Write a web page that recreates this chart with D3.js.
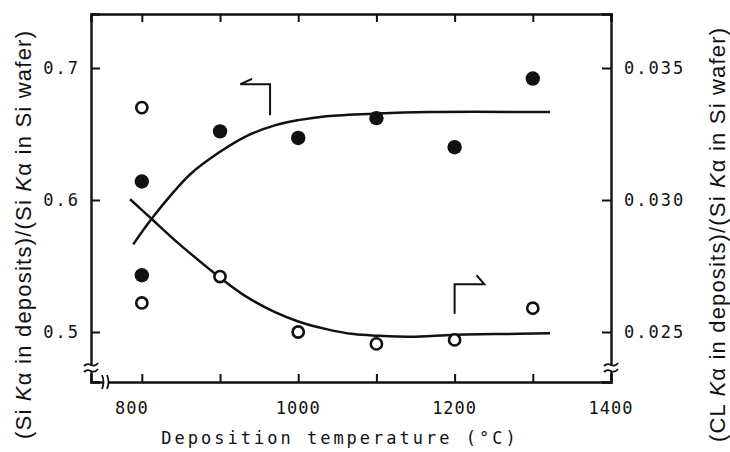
<!DOCTYPE html>
<html><head><meta charset="utf-8">
<script src="https://cdn.jsdelivr.net/npm/d3@7"></script>
<style>
html,body{margin:0;padding:0;background:#fff;}
svg{display:block;}
</style></head>
<body><svg id="chart" width="730" height="452"></svg>
<script>
// ---- data ----
const siTemps = [800, 800, 900, 1000, 1100, 1200, 1300];
const siRatio = [0.614, 0.543, 0.652, 0.647, 0.662, 0.640, 0.692];
const clTemps = [800, 800, 900, 1000, 1100, 1200, 1300];
const clRatio = [0.0335, 0.0261, 0.0271, 0.0250, 0.02455, 0.0247, 0.0259];
const siFitT = [789, 813, 841, 863, 900, 932, 971, 1000, 1036, 1101, 1166, 1322];
const siFitV = [0.5664, 0.5861, 0.6063, 0.6201, 0.6365, 0.6479, 0.6567, 0.6605, 0.6635, 0.6655, 0.6666, 0.6666];
const clFitT = [785, 813, 841, 863, 900, 932, 971, 1000, 1036, 1071, 1101, 1144, 1200, 1252, 1322];
const clFitV = [0.03003, 0.02927, 0.02851, 0.02795, 0.02706, 0.02637, 0.02574, 0.02540, 0.02511, 0.02492, 0.02486, 0.02482, 0.02490, 0.02492, 0.02495];
const xTicks = [800, 900, 1000, 1100, 1200, 1300, 1400];
const xTickLabels = ["800", "", "1000", "", "1200", "", "1400"];
const yLeftTicks = [0.5, 0.6, 0.7];
const yLeftLabels = ["0.5", "0.6", "0.7"];
const yRightTicks = [0.025, 0.030, 0.035];
const yRightLabels = ["0.025", "0.030", "0.035"];
// arrows (data units): left-pointing arrow for Si curve, right-pointing for Cl curve
const arrowSiT = [964, 964, 926, 941];
const arrowSiV = [0.6642, 0.6877, 0.6877, 0.6918];
const arrowClT = [1200, 1200, 1238, 1228];
const arrowClV = [0.02569, 0.02681, 0.02681, 0.02715];

// ---- layout ----
const L = 91, R = 611, T = 14, B = 382;
const svg = d3.select("#chart");
const x = d3.scaleLinear().domain([735, 1400]).range([L, R]);
const y = d3.scaleLinear().domain([0.5 - (B - 332) / 1320, 0.5 + (332 - T) / 1320]).range([B, T]);
const y2 = d3.scaleLinear().domain(y.domain().map(v => 0.025 + (v - 0.5) * 0.05)).range([B, T]);

const ink = "#111";
// frame axes
const ax = svg.append("g");
ax.append("g").attr("transform", `translate(0,${B})`)
  .call(d3.axisBottom(x).tickValues(xTicks).tickSize(-8).tickFormat(""));
ax.append("g").attr("transform", `translate(0,${T})`)
  .call(d3.axisTop(x).tickValues(xTicks).tickSize(-8).tickFormat(""));
ax.append("g").attr("transform", `translate(${L},0)`)
  .call(d3.axisLeft(y).tickValues(yLeftTicks).tickSize(-9).tickFormat(""));
ax.append("g").attr("transform", `translate(${R},0)`)
  .call(d3.axisRight(y2).tickValues(yRightTicks).tickSize(-9).tickFormat(""));
ax.selectAll(".domain").attr("stroke", ink).attr("stroke-width", 2.4);
ax.selectAll(".tick line").attr("stroke", ink).attr("stroke-width", 2);

// tick labels
const mono = "'DejaVu Sans Mono', 'Liberation Mono', monospace";
svg.append("g").selectAll("text").data(xTicks).join("text")
  .attr("x", (d, i) => x(d) + (i === 0 ? -10 : 0)).attr("y", 414)
  .attr("text-anchor", "middle").attr("font-family", mono).attr("font-size", 17)
  .attr("letter-spacing", 1).attr("fill", ink)
  .text((d, i) => xTickLabels[i]);
svg.append("g").selectAll("text").data(yLeftTicks).join("text")
  .attr("x", 80).attr("y", d => y(d) + 6)
  .attr("text-anchor", "end").attr("font-family", mono).attr("font-size", 17)
  .attr("letter-spacing", 2).attr("fill", ink)
  .text((d, i) => yLeftLabels[i]);
svg.append("g").selectAll("text").data(yRightTicks).join("text")
  .attr("x", 624).attr("y", d => y2(d) + 6)
  .attr("text-anchor", "start").attr("font-family", mono).attr("font-size", 17)
  .attr("letter-spacing", 2).attr("fill", ink)
  .text((d, i) => yRightLabels[i]);

// axis titles
svg.append("text").attr("x", 340).attr("y", 444).attr("text-anchor", "middle")
  .attr("font-family", mono).attr("font-size", 17).attr("letter-spacing", 3).attr("fill", ink)
  .text("Deposition temperature (°C)");

const sans = "'Liberation Sans', Arial, sans-serif";
function yTitle(cx, len, parts) {
  const t = svg.append("text").attr("transform", `translate(${cx},235) rotate(-90)`)
    .attr("text-anchor", "middle").attr("font-family", sans).attr("font-size", 22).attr("fill", ink)
    .attr("dominant-baseline", "central")
    .attr("textLength", len).attr("lengthAdjust", "spacing");
  parts.forEach(p => {
    const s = t.append("tspan").text(p[0]);
    if (p[1]) s.attr("font-style", "italic");
  });
  return t;
}
yTitle(23, 408, [["(Si ", 0], ["K", 1], ["α in deposits)/(Si ", 0], ["K", 1], ["α in Si wafer)", 0]]);
yTitle(717, 414, [["(CL ", 0], ["K", 1], ["α in deposits)/(Si ", 0], ["K", 1], ["α in Si wafer)", 0]]);

// axis breaks
const brk = svg.append("g").attr("stroke", ink).attr("stroke-width", 1.8).attr("fill", "none");
[L, R].forEach(ax0 => {
  brk.append("rect").attr("x", ax0 - 3).attr("y", 365).attr("width", 6).attr("height", 6).attr("fill", "#fff").attr("stroke", "none");
  [365, 371].forEach(yy => brk.append("path")
    .attr("d", `M${ax0 - 7},${yy + 1} q3,-3 7,-1 q4,2 7,-2`));
});
brk.append("rect").attr("x", 103).attr("y", B - 3).attr("width", 5).attr("height", 6).attr("fill", "#fff").attr("stroke", "none");
[103, 108].forEach(xx => brk.append("path")
  .attr("d", `M${xx - 1},${B - 7} q3,7 0,14`));

// fitted curves
const line = d3.line().curve(d3.curveCatmullRom.alpha(0.5));
svg.append("path").attr("d", line(siFitT.map((t, i) => [x(t), y(siFitV[i])])))
  .attr("fill", "none").attr("stroke", ink).attr("stroke-width", 2.5);
svg.append("path").attr("d", line(clFitT.map((t, i) => [x(t), y2(clFitV[i])])))
  .attr("fill", "none").attr("stroke", ink).attr("stroke-width", 2.5);

// arrows
const pl = d3.line();
svg.append("path").attr("d", pl(arrowSiT.map((t, i) => [x(t), y(arrowSiV[i])])))
  .attr("fill", "none").attr("stroke", ink).attr("stroke-width", 2);
svg.append("path").attr("d", pl(arrowClT.map((t, i) => [x(t), y2(arrowClV[i])])))
  .attr("fill", "none").attr("stroke", ink).attr("stroke-width", 2);

// points
svg.append("g").selectAll("circle").data(siTemps).join("circle")
  .attr("cx", d => x(d)).attr("cy", (d, i) => y(siRatio[i])).attr("r", 7.2).attr("fill", ink);
svg.append("g").selectAll("circle").data(clTemps).join("circle")
  .attr("cx", d => x(d)).attr("cy", (d, i) => y2(clRatio[i])).attr("r", 5.6)
  .attr("fill", "#fff").attr("stroke", ink).attr("stroke-width", 2.6);
</script></body></html>
